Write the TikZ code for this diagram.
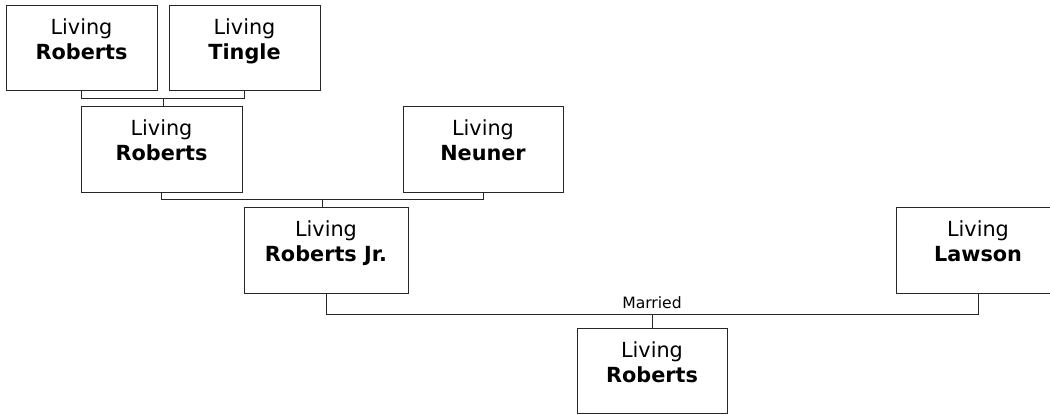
\documentclass[tikz,border=0pt]{standalone}
\usepackage{fontspec}
\setmainfont{DejaVu Sans}
\usetikzlibrary{positioning,calc}

\tikzset{
  person/.style={draw=black!85, line width=0.5pt, rectangle, inner sep=0pt,
    minimum width=75.5pt, minimum height=42.5pt},
  whotext/.style={anchor=north, yshift=-7pt, inner sep=0pt, align=center,
    font=\fontsize{10.4}{12.5}\selectfont},
  who/.style={label={[whotext]north:{Living\\\textbf{#1}}}},
  link/.style={draw=black!85, line width=0.5pt},
  married/.style={anchor=south, inner sep=2.5pt, font=\fontsize{7.8}{9}\selectfont}
}

\begin{document}
\begin{tikzpicture}[x=0.5pt, y=-0.5pt]
    \clip (0,0) rectangle (1050,414);

    % grandparents
    \node (pa) [person, who=Roberts] at (81.5,47.5) {};
    \node (pb) [person, who=Tingle] at (244.5,47.5) {};

    % parents
    \node (pc) [person, minimum width=80.5pt, minimum height=43pt, who=Roberts] at (161.5,149) {};
    \node (pd) [person, minimum width=80pt, minimum height=43pt, who=Neuner] at (483,149) {};

    % couple
    \node (pe) [person, minimum width=82pt, minimum height=43pt, who=Roberts Jr.] at (326,250) {};
    \node (pf) [person, minimum width=82pt, minimum height=43pt, who=Lawson] at (978,250) {};

    % child
    \node (pg) [person, minimum width=75pt, who=Roberts] at (652,370.5) {};

    \coordinate (ab) at ($(pa.south)!0.5!(pb.south)+(0,8)$);
    \coordinate (cd) at ($(pc.south)!0.5!(pd.south)+(0,7)$);
    \coordinate (ef) at ($(pe.south)!0.5!(pf.south)+(0,21)$);

    \draw[link] (pa.south) |- (ab) -| (pb.south);
    \draw[link] (ab) -- (ab |- pc.north);
    \draw[link] (pc.south) |- (cd) -| (pd.south);
    \draw[link] (cd) -- (cd |- pe.north);
    \draw[link] (pe.south) |- (ef) -| (pf.south);
    \draw[link] (ef) -- (ef |- pg.north);
    \node (wed) [married] at (ef) {Married};
\end{tikzpicture}
\end{document}
